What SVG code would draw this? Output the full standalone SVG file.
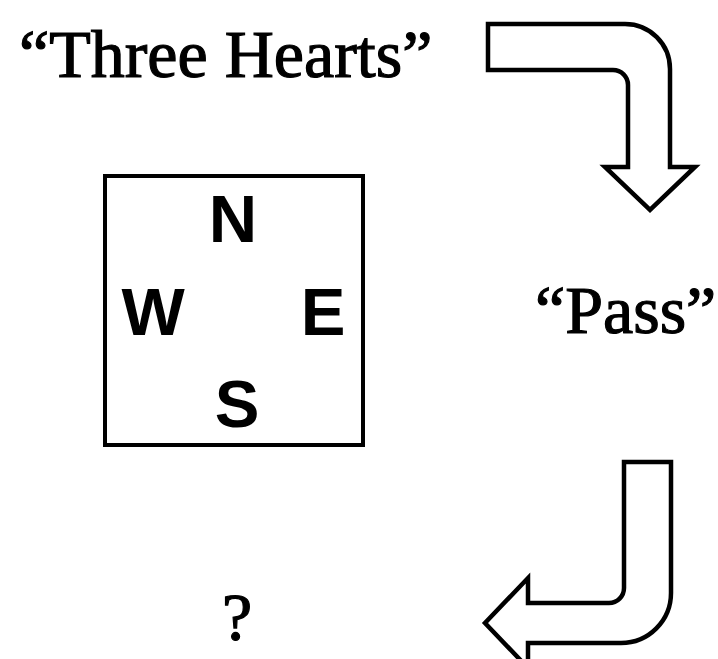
<svg xmlns="http://www.w3.org/2000/svg" width="718" height="659" viewBox="0 0 718 659">
<style>
.serif{font-family:"Liberation Serif","Times New Roman",serif;font-size:68px;fill:#000;stroke:#000;stroke-width:1.2}
.sans{font-family:"Liberation Sans",Arial,sans-serif;font-weight:bold;font-size:67px;fill:#000;text-anchor:middle}
.arrow{fill:#fff;stroke:#000;stroke-width:4.5;stroke-linejoin:miter}
</style>
<rect width="718" height="659" fill="#fff"/>
<g id="bid-three-hearts"><text class="serif" x="19" y="77">“Three Hearts”</text></g>
<g id="bid-pass"><text class="serif" x="535" y="333">“Pass”</text></g>
<g id="bid-unknown"><text class="serif" x="237" y="640" text-anchor="middle">?</text></g>
<g id="compass">
<rect x="105" y="176" width="258" height="269" fill="none" stroke="#000" stroke-width="4"/>
<text class="sans" x="233" y="242">N</text>
<text class="sans" x="153" y="335">W</text>
<text class="sans" x="323" y="335">E</text>
<text class="sans" x="237" y="427">S</text>
</g>
<g id="connectors">
<path class="arrow" d="M488,24 L625,24 A45,45 0 0 1 670,69 L670,167 L695,167 L650,210 L605,167 L628,167 L628,85 A15,15 0 0 0 613,70 L488,70 Z"/>
<path class="arrow" d="M624,462 L671,462 L671,593 A50,50 0 0 1 621,643 L528,643 L528,668 L485,623 L528,578 L528,603 L609,603 A15,15 0 0 0 624,588 Z"/>
</g>
</svg>
